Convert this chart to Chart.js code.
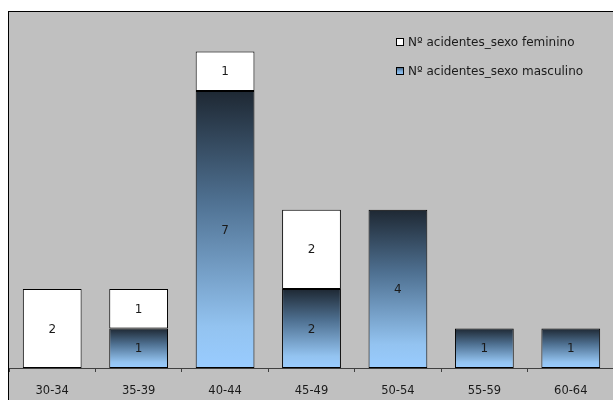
<!DOCTYPE html>
<html>
<head>
<meta charset="utf-8">
<script src="https://cdn.jsdelivr.net/npm/chart.js@4/dist/chart.umd.min.js"></script>
<style>
  html, body { margin: 0; padding: 0; background: #ffffff; }
  #frame {
    position: absolute; left: 8px; top: 11px;
    width: 605px; height: 389px;
    border-left: 1px solid #000; border-top: 1px solid #000;
    background: #c0c0c0; overflow: hidden;
  }
  #chart { display: block; }
</style>
</head>
<body>
<div id="frame"><canvas id="chart" width="605" height="389"></canvas></div>
<script>
// Age groups and number of accidents per group, by sex
const faixasEtarias = ['30-34', '35-39', '40-44', '45-49', '50-54', '55-59', '60-64'];
const acidentesMasculino = [0, 1, 7, 2, 4, 1, 1];
const acidentesFeminino  = [2, 1, 1, 2, 0, 0, 0];
const nomeFeminino  = 'Nº acidentes_sexo feminino';
const nomeMasculino = 'Nº acidentes_sexo masculino';
const eixoMax = 9;

const FONT = 'DejaVu Sans, sans-serif';
const AZUL_CLARO = '#99ccff';

function gradienteAzul(ctx2d, top, bottom) {
  const g = ctx2d.createLinearGradient(0, top, 0, bottom);
  g.addColorStop(0.00, '#1e2833');
  g.addColorStop(0.40, '#4f7192');
  g.addColorStop(0.85, '#93c3f0');
  g.addColorStop(1.00, '#99ccff');
  return g;
}

// no outline for empty segments
const bordaSeValor = (c) => (c.raw ? 1 : 0);

// Value labels centred in each stacked segment
const rotulosValores = {
  id: 'rotulosValores',
  afterDatasetsDraw(chart) {
    const ctx = chart.ctx;
    ctx.save();
    ctx.font = '12px ' + FONT;
    ctx.fillStyle = '#1a1a1a';
    ctx.textAlign = 'center';
    ctx.textBaseline = 'middle';
    chart.data.datasets.forEach((ds, i) => {
      chart.getDatasetMeta(i).data.forEach((bar, j) => {
        const v = ds.data[j];
        if (!v) return;
        const p = bar.getProps(['x', 'y', 'base'], true);
        ctx.fillText(String(v), p.x, (p.y + p.base) / 2 + 1);
      });
    });
    ctx.restore();
  }
};

// Legend inside the plot, top right
const legendaInterna = {
  id: 'legendaInterna',
  afterDraw(chart) {
    const ctx = chart.ctx;
    const x0 = 387, rows = [30, 59];
    const swatchAzul = (y) => {
      const g = ctx.createLinearGradient(0, y - 4, 0, y + 4);
      g.addColorStop(0, '#3a5570');
      g.addColorStop(0.5, '#7aa9d6');
      g.addColorStop(1, '#99ccff');
      return g;
    };
    const items = [
      { txt: nomeFeminino, fill: () => '#ffffff' },
      { txt: nomeMasculino, fill: swatchAzul }
    ];
    ctx.save();
    ctx.font = '12px ' + FONT;
    ctx.textBaseline = 'middle';
    ctx.textAlign = 'left';
    items.forEach((it, k) => {
      const y = rows[k];
      ctx.fillStyle = it.fill(y);
      ctx.fillRect(x0, y - 4, 8, 8);
      ctx.strokeStyle = '#000';
      ctx.lineWidth = 1;
      ctx.strokeRect(x0 + 0.5, y - 3.5, 7, 7);
      ctx.fillStyle = '#1a1a1a';
      ctx.fillText(it.txt, x0 + 12, y + 1);
    });
    ctx.restore();
  }
};

new Chart(document.getElementById('chart'), {
  type: 'bar',
  data: {
    labels: faixasEtarias,
    datasets: [
      {
        label: nomeMasculino,
        data: acidentesMasculino,
        backgroundColor(c) {
          const chart = c.chart;
          if (!chart.chartArea || c.type !== 'data') return AZUL_CLARO;
          const y = chart.scales.y;
          const top = y.getPixelForValue(acidentesMasculino[c.dataIndex]);
          const bottom = y.getPixelForValue(0);
          if (bottom - top < 1) return AZUL_CLARO;
          return gradienteAzul(chart.ctx, top, bottom);
        },
        borderColor: '#000000',
        borderWidth: bordaSeValor,
        borderSkipped: false,
        barPercentage: 0.68,
        categoryPercentage: 1.0
      },
      {
        label: nomeFeminino,
        data: acidentesFeminino,
        backgroundColor: '#ffffff',
        borderColor: '#000000',
        borderWidth: bordaSeValor,
        borderSkipped: false,
        barPercentage: 0.68,
        categoryPercentage: 1.0
      }
    ]
  },
  options: {
    responsive: false,
    animation: false,
    layout: { padding: { left: 0, right: 0, top: 0, bottom: 0 } },
    plugins: { legend: { display: false }, tooltip: { enabled: false } },
    scales: {
      x: {
        stacked: true,
        offset: true,
        afterFit(s) { s.height = 33; },
        grid: {
          offset: true,
          drawOnChartArea: false,
          drawTicks: true,
          tickLength: 4,
          color: '#404040'
        },
        border: { display: true, color: '#404040', width: 1 },
        ticks: {
          color: '#1a1a1a',
          font: { family: FONT, size: 11.5 },
          padding: 12,
          maxRotation: 0,
          autoSkip: false
        }
      },
      y: {
        stacked: true,
        display: false,
        min: 0,
        max: eixoMax
      }
    }
  },
  plugins: [rotulosValores, legendaInterna]
});
</script>
</body>
</html>
